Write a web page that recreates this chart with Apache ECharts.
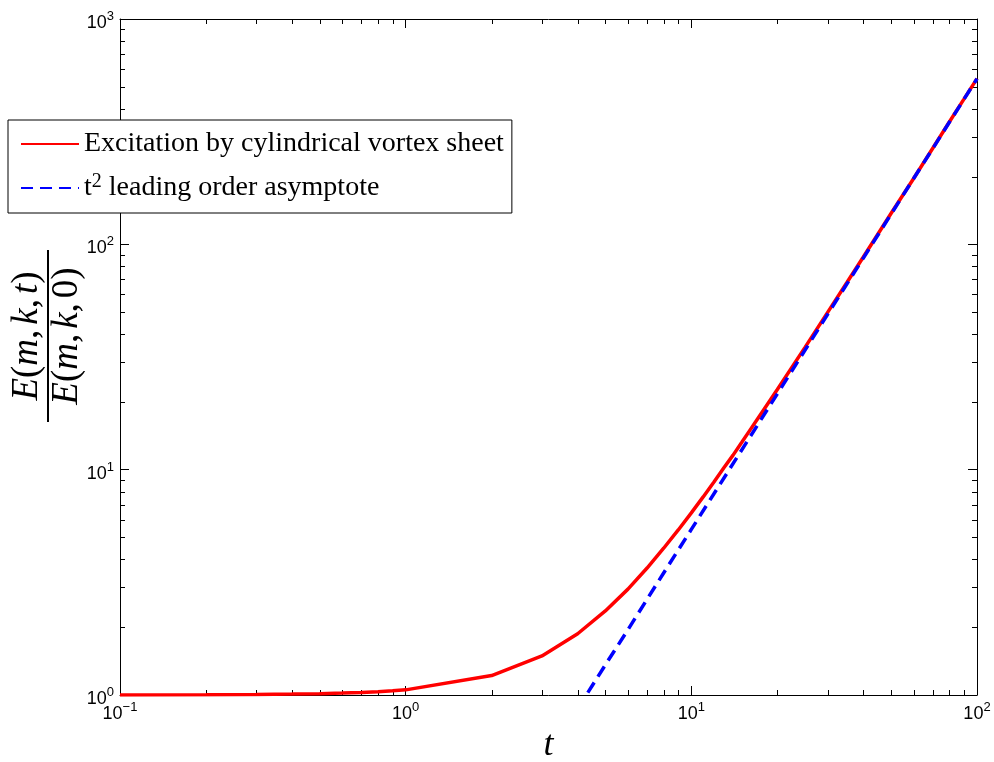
<!DOCTYPE html>
<html>
<head>
<meta charset="utf-8">
<script src="https://cdn.jsdelivr.net/npm/echarts@6/dist/echarts.min.js"></script>
<style>
  html, body { margin: 0; padding: 0; background: #ffffff; }
  #chart { width: 994px; height: 762px; }
</style>
</head>
<body>
<div id="chart"></div>
<script>
// Time samples and normalised energy E(m,k,t)/E(m,k,0)
const tValues = [0.1, 0.2, 0.3, 0.4, 0.5, 0.6, 0.7, 0.8, 0.9,
  1, 2, 3, 4, 5, 6, 7, 8, 9, 10, 11, 12, 13, 14, 15, 16, 17, 18, 19, 20,
  25, 30, 35, 40, 50, 60, 70, 80, 90, 100];
const energyRatio = [1.0005, 1.002, 1.005, 1.009, 1.014, 1.02, 1.027, 1.035, 1.044,
  1.054, 1.22, 1.49, 1.87, 2.36, 2.95, 3.66, 4.48, 5.40, 6.43, 7.57, 8.82, 10.2, 11.6, 13.2, 14.9, 16.7, 18.6, 20.6, 22.7,
  34.9, 49.9, 67.5, 87.9, 137, 196, 267, 349, 441, 544];

// Leading order t^2 asymptote
const asymT = [4, 5, 6, 7, 8, 9, 10, 20, 30, 40, 50, 60, 70, 80, 90, 100];
const asymValues = [0.869, 1.36, 1.95, 2.66, 3.48, 4.40, 5.43, 21.7, 48.9, 86.9, 136, 196, 266, 348, 440, 543];

const seriesNames = ['Excitation by cylindrical vortex sheet', 't2 leading order asymptote'];

// Axis ranges and minor tick positions (log decades)
const xRange = [0.1, 100];
const yRange = [1, 1000];
const xMinorTicks = [0.2, 0.3, 0.4, 0.5, 0.6, 0.7, 0.8, 0.9, 2, 3, 4, 5, 6, 7, 8, 9, 20, 30, 40, 50, 60, 70, 80, 90];
const yMinorTicks = [2, 3, 4, 5, 6, 7, 8, 9, 20, 30, 40, 50, 60, 70, 80, 90, 200, 300, 400, 500, 600, 700, 800, 900];

const chart = echarts.init(document.getElementById('chart'), null, { renderer: 'canvas' });

const tickFont = 'Liberation Sans';
const serifFont = 'Liberation Serif';

function powerLabel(value) {
  const e = Math.round(Math.log10(value));
  const exp = e < 0 ? '\u2212' + (-e) : String(e);
  return '{base|10}{exp|' + exp + '}';
}

const tickRich = {
  base: { fontSize: 18, lineHeight: 18, padding: [8, 0, 0, 0], fontFamily: tickFont, color: '#000' },
  exp: { fontSize: 13, lineHeight: 13, verticalAlign: 'top', fontFamily: tickFont, color: '#000' }
};

function baseAxis(extra) {
  return Object.assign({
    type: 'log',
    logBase: 10,
    axisLine: { show: true, onZero: false, lineStyle: { color: '#000', width: 1 } },
    axisTick: { show: true, inside: true, length: 9, lineStyle: { color: '#000', width: 1 } },
    splitLine: { show: false },
    minorTick: { show: false },
    minorSplitLine: { show: false }
  }, extra);
}

function tickLine(x1, y1, x2, y2) {
  return { type: 'line', shape: { x1: x1, y1: y1, x2: x2, y2: y2 }, style: { stroke: '#000', lineWidth: 1 } };
}

// Minor ticks drawn on the bottom and top edges of the frame
function renderXMinor(params, api) {
  const v = api.value(0);
  const b = api.coord([v, yRange[0]]);
  const t = api.coord([v, yRange[1]]);
  const x = Math.round(b[0]) + 0.5;
  return { type: 'group', children: [tickLine(x, b[1], x, b[1] - 5), tickLine(x, t[1], x, t[1] + 5)] };
}

// Minor ticks drawn on the left and right edges of the frame
function renderYMinor(params, api) {
  const v = api.value(1);
  const l = api.coord([xRange[0], v]);
  const r = api.coord([xRange[1], v]);
  const y = Math.round(l[1]) + 0.5;
  return { type: 'group', children: [tickLine(l[0], y, l[0] + 5, y), tickLine(r[0], y, r[0] - 5, y)] };
}

const mathSize = 37;
const mathRich = {
  i: { fontFamily: serifFont, fontStyle: 'italic', fontSize: mathSize, color: '#000' },
  r: { fontFamily: serifFont, fontSize: mathSize, color: '#000' },
  c: { fontFamily: serifFont, fontSize: mathSize, color: '#000', padding: [0, 5, 0, 0] }
};

const option = {
  animation: false,
  backgroundColor: '#ffffff',
  grid: { left: 120, right: 17, top: 19, bottom: 67, containLabel: false, outerBoundsMode: 'none' },
  xAxis: [
    baseAxis({
      position: 'bottom', min: xRange[0], max: xRange[1],
      axisLabel: { show: true, margin: 6, fontSize: 18, fontFamily: tickFont, color: '#000', formatter: powerLabel, rich: tickRich },
      name: 't', nameLocation: 'middle', nameGap: 32,
      nameTextStyle: { fontFamily: serifFont, fontStyle: 'italic', fontSize: 36, color: '#000' }
    }),
    baseAxis({ position: 'top', min: xRange[0], max: xRange[1], axisLabel: { show: false } })
  ],
  yAxis: [
    baseAxis({
      position: 'left', min: yRange[0], max: yRange[1],
      axisLabel: { show: true, margin: 6, fontSize: 18, fontFamily: tickFont, color: '#000', formatter: powerLabel, rich: tickRich }
    }),
    baseAxis({ position: 'right', min: yRange[0], max: yRange[1], axisLabel: { show: false } })
  ],
  legend: {
    data: seriesNames,
    orient: 'vertical',
    left: 8,
    top: 120,
    z: 20,
    padding: [10, 8, 11, 12],
    itemWidth: 58,
    itemHeight: 14,
    itemGap: 14,
    borderColor: '#000',
    borderWidth: 1,
    backgroundColor: '#fff',
    selectedMode: false,
    itemStyle: { opacity: 0 },
    formatter: function (name) {
      if (name === seriesNames[1]) {
        return '{n|t}{sup|2}{n| leading order asymptote}';
      }
      return '{n|' + name + '}';
    },
    textStyle: {
      fontFamily: serifFont,
      fontSize: 28,
      color: '#000',
      rich: {
        n: { fontFamily: serifFont, fontSize: 28, lineHeight: 32, color: '#000' },
        sup: { fontFamily: serifFont, fontSize: 20, lineHeight: 20, verticalAlign: 'top', color: '#000' }
      }
    }
  },
  graphic: [
    {
      // Rotated fraction label for the vertical axis
      type: 'group',
      x: 48,
      y: 336,
      rotation: Math.PI / 2,
      children: [
        {
          type: 'text',
          x: 0, y: -2,
          style: {
            text: '{i|E}{r|(}{i|m}{c|,}{i|k}{c|,}{i|t}{r|)}',
            rich: mathRich,
            align: 'center', verticalAlign: 'bottom'
          }
        },
        { type: 'line', shape: { x1: -86, y1: 0, x2: 86, y2: 0 }, style: { stroke: '#000', lineWidth: 2 } },
        {
          type: 'text',
          x: 0, y: 1,
          style: {
            text: '{i|E}{r|(}{i|m}{c|,}{i|k}{c|,}{r|0}{r|)}',
            rich: mathRich,
            align: 'center', verticalAlign: 'top'
          }
        }
      ]
    }
  ],
  series: [
    {
      name: seriesNames[0],
      type: 'line',
      xAxisIndex: 0, yAxisIndex: 0,
      data: tValues.map((t, i) => [t, energyRatio[i]]),
      symbol: 'none',
      showSymbol: false,
      smooth: false,
      clip: true,
      lineStyle: { color: '#ff0000', width: 3.5 },
      itemStyle: { color: '#ff0000' },
      z: 3
    },
    {
      name: seriesNames[1],
      type: 'line',
      xAxisIndex: 0, yAxisIndex: 0,
      data: asymT.map((t, i) => [t, asymValues[i]]),
      symbol: 'none',
      showSymbol: false,
      smooth: false,
      clip: true,
      lineStyle: { color: '#0000ff', width: 3.5, type: [12, 7] },
      itemStyle: { color: '#0000ff' },
      z: 4
    },
    {
      type: 'custom',
      xAxisIndex: 0, yAxisIndex: 0,
      data: xMinorTicks.map(v => [v, yRange[0]]),
      renderItem: renderXMinor,
      silent: true,
      clip: false,
      z: 2
    },
    {
      type: 'custom',
      xAxisIndex: 0, yAxisIndex: 0,
      data: yMinorTicks.map(v => [xRange[0], v]),
      renderItem: renderYMinor,
      silent: true,
      clip: false,
      z: 2
    }
  ]
};

chart.setOption(option);
</script>
</body>
</html>
